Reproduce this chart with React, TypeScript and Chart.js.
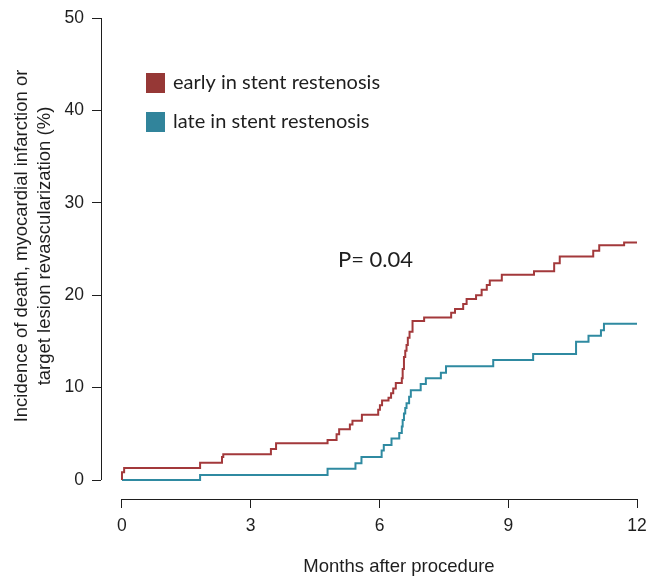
import React, { useEffect, useRef } from 'react';
import { Chart, registerables } from 'chart.js';

Chart.register(...registerables);

// ---- data ----
const xTickValues = [0, 3, 6, 9, 12];
const yTickValues = [0, 10, 20, 30, 40, 50];
const seriesNames = ['early in stent restenosis', 'late in stent restenosis'];
const xTitle = 'Months after procedure';
const yTitleLines = ['Incidence of death, myocardial infarction or', 'target lesion revascularization (%)'];
const pValueText = 'P= 0.04';

const earlyMonths = [0, 0, 0.05, 1.82, 2.33, 2.36, 3.47, 3.59, 4.79, 5.0, 5.06, 5.31, 5.37, 5.59, 5.97, 6.01, 6.06, 6.21, 6.27, 6.32, 6.38, 6.52, 6.54, 6.57, 6.6, 6.63, 6.66, 6.7, 6.77, 7.04, 7.67, 7.76, 7.95, 8.03, 8.25, 8.38, 8.5, 8.57, 8.85, 9.6, 10.07, 10.2, 10.98, 11.12, 11.7, 12];
const earlyPct = [0, 0.85, 1.3, 1.87, 2.5, 2.8, 3.35, 3.97, 4.33, 4.94, 5.5, 6.0, 6.4, 7.05, 7.6, 8.1, 8.6, 8.9, 9.4, 9.9, 10.5, 11.0, 12.0, 13.3, 14.0, 14.6, 15.4, 16.05, 17.2, 17.6, 18.1, 18.5, 19.05, 19.6, 20.0, 20.6, 21.1, 21.6, 22.2, 22.6, 23.45, 24.2, 24.8, 25.4, 25.7, 25.7];

const lateMonths = [0, 1.82, 4.79, 5.44, 5.58, 6.05, 6.1, 6.28, 6.46, 6.52, 6.54, 6.57, 6.6, 6.63, 6.69, 6.73, 6.96, 7.08, 7.43, 7.55, 8.65, 9.58, 10.58, 10.87, 11.16, 11.23, 12];
const latePct = [0, 0.55, 1.23, 1.8, 2.5, 3.2, 3.8, 4.5, 5.1, 5.8, 6.5, 7.2, 7.8, 8.3, 9.0, 9.7, 10.4, 11.0, 11.6, 12.3, 13.0, 13.65, 14.95, 15.6, 16.2, 16.9, 16.9];

// ---- styles ----
const EARLY_LINE = '#A3393B';
const LATE_LINE = '#2F8AA1';
const EARLY_BOX = '#963836';
const LATE_BOX = '#31849B';
const INK = '#1e1e1e';
const AXIS_FONT = '"Liberation Sans", Arial, sans-serif';
const LEGEND_FONT = 'Lato, "Noto Sans", sans-serif';

const decorPlugin = {
  id: 'decor',
  afterDraw(chart: any) {
    const { ctx, chartArea, scales } = chart;
    const x = scales.x;
    const y = scales.y;
    ctx.save();
    ctx.strokeStyle = INK;
    ctx.lineWidth = 1;
    // y axis line (spans tick range only)
    const yl = Math.round(chartArea.left) + 0.5;
    ctx.beginPath();
    ctx.moveTo(yl, y.getPixelForValue(yTickValues[0]));
    ctx.lineTo(yl, y.getPixelForValue(yTickValues[yTickValues.length - 1]));
    ctx.stroke();
    // x axis line
    const xb = Math.round(chartArea.bottom) + 0.5;
    ctx.beginPath();
    ctx.moveTo(x.getPixelForValue(xTickValues[0]), xb);
    ctx.lineTo(x.getPixelForValue(xTickValues[xTickValues.length - 1]), xb);
    ctx.stroke();

    // axis titles
    ctx.fillStyle = INK;
    ctx.font = `18.5px ${AXIS_FONT}`;
    ctx.textAlign = 'center';
    ctx.textBaseline = 'middle';
    ctx.fillText(xTitle, 399, 567);

    ctx.save();
    ctx.translate(0, 246);
    ctx.rotate(-Math.PI / 2);
    ctx.font = `18.5px ${AXIS_FONT}`;
    ctx.fillText(yTitleLines[0], 0, 22);
    ctx.fillText(yTitleLines[1], 0, 45);
    ctx.restore();

    // legend
    const boxes = [EARLY_BOX, LATE_BOX];
    const rows = [83, 122];
    ctx.font = `20px ${LEGEND_FONT}`;
    ctx.textAlign = 'left';
    ctx.textBaseline = 'middle';
    chart.data.datasets.forEach((ds: any, i: number) => {
      ctx.fillStyle = boxes[i];
      ctx.fillRect(146, rows[i] - 10, 19, 20);
      ctx.fillStyle = INK;
      ctx.fillText(ds.label, 173, rows[i]);
    });

    // p-value
    ctx.font = `22px ${LEGEND_FONT}`;
    ctx.fillText(pValueText, 338, 260);
    ctx.restore();
  },
};

export default function App() {
  const ref = useRef<HTMLCanvasElement | null>(null);

  useEffect(() => {
    if (!ref.current) return;
    const chart = new Chart(ref.current, {
      type: 'line',
      data: {
        datasets: [
          {
            label: seriesNames[0],
            data: earlyMonths.map((m, i) => ({ x: m, y: earlyPct[i] })),
            borderColor: EARLY_LINE,
            borderWidth: 2,
            pointRadius: 0,
            stepped: 'before',
            fill: false,
          },
          {
            label: seriesNames[1],
            data: lateMonths.map((m, i) => ({ x: m, y: latePct[i] })),
            borderColor: LATE_LINE,
            borderWidth: 2,
            pointRadius: 0,
            stepped: 'before',
            fill: false,
          },
        ],
      },
      options: {
        responsive: false,
        animation: false,
        events: [],
        layout: { padding: { left: 0, right: 13, top: 18, bottom: 0 } },
        plugins: { legend: { display: false }, tooltip: { enabled: false } },
        scales: {
          x: {
            type: 'linear',
            min: -0.489,
            max: 12,
            afterBuildTicks: (s: any) => {
              s.ticks = xTickValues.map((v) => ({ value: v }));
            },
            afterFit: (s: any) => {
              s.height = 79;
              s.paddingLeft = 0;
              s.paddingRight = 0;
            },
            border: { display: false },
            grid: { drawOnChartArea: false, drawTicks: true, tickLength: 9, color: INK, lineWidth: 1 },
            ticks: { color: INK, font: { family: AXIS_FONT, size: 17.5 }, padding: 8, maxRotation: 0 },
          },
          y: {
            type: 'linear',
            min: -2.056,
            max: 50,
            afterBuildTicks: (s: any) => {
              s.ticks = yTickValues.map((v) => ({ value: v }));
            },
            afterFit: (s: any) => {
              s.width = 101;
              s.paddingTop = 0;
              s.paddingBottom = 0;
            },
            border: { display: false },
            grid: { drawOnChartArea: false, drawTicks: true, tickLength: 9, color: INK, lineWidth: 1 },
            ticks: { color: INK, font: { family: AXIS_FONT, size: 17.5 }, padding: 8 },
          },
        },
      },
      plugins: [decorPlugin],
    });
    return () => chart.destroy();
  }, []);

  return (
    <div style={{ position: 'absolute', left: 0, top: 0, width: 650, height: 578, background: '#fff' }}>
      <canvas ref={ref} width={650} height={578} style={{ display: 'block' }} />
    </div>
  );
}
